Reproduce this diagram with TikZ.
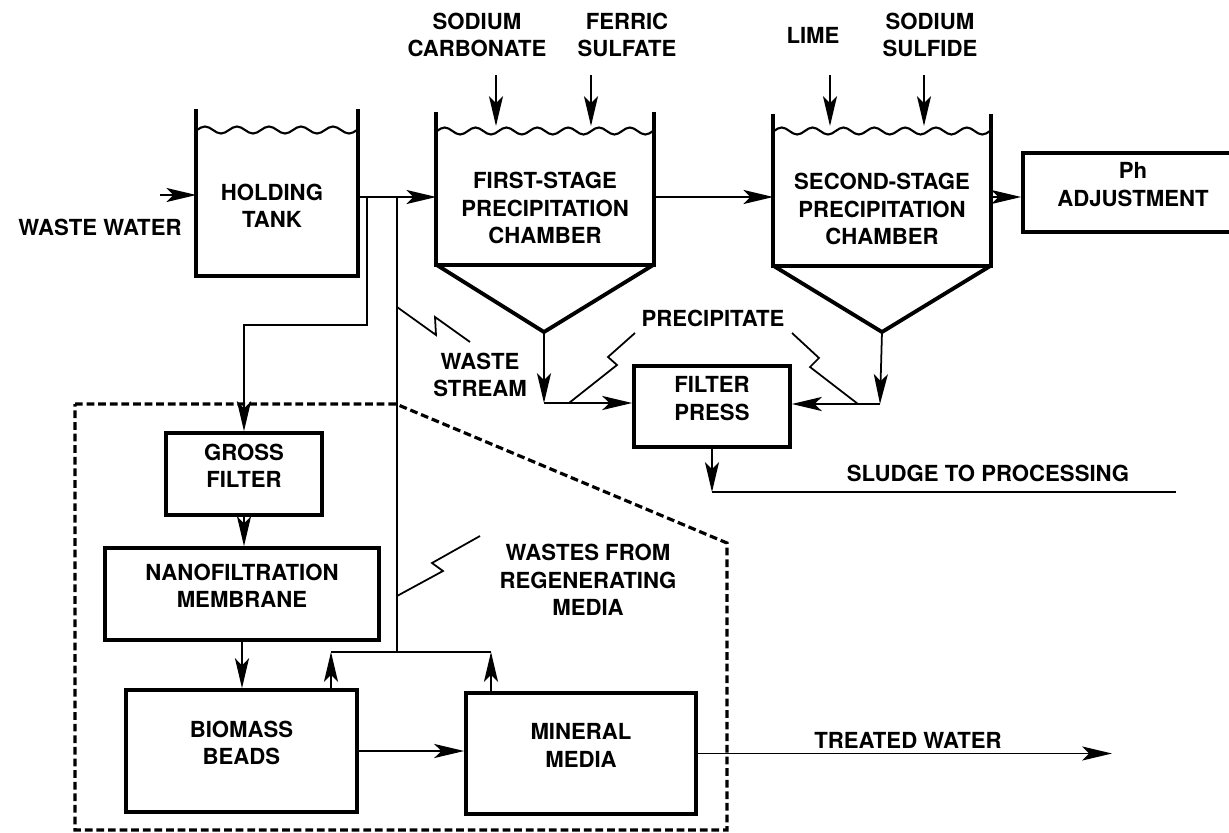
\documentclass[tikz,border=0pt]{standalone}
\usepackage{fontspec}
\setmainfont{TeX Gyre Heros}
\usetikzlibrary{arrows.meta,fit}

% draws a water surface of #4 waves from x=#1 to x=#2 at height #3
\newcommand{\tankwave}[4]{%
  \pgfmathsetmacro{\wl}{(#2-#1)/#4}%
  \draw[wavy] (#1,#3) \foreach \k in {1,...,#4}{
    sin ++(\wl/4,-3.5) cos ++(\wl/4,3.5) sin ++(\wl/4,3.5) cos ++(\wl/4,-3.5)};%
}

\begin{document}
\begin{tikzpicture}[x=0.01cm,y=-0.01cm,
  txt/.style={font=\fontsize{6.3}{7.8}\selectfont\bfseries, align=center, inner sep=0pt},
  box/.style={draw, line width=1.05pt, inner sep=0pt, txt},
  area/.style={inner sep=0pt},
  wall/.style={line width=1.1pt, line join=miter},
  flow/.style={line width=0.5pt},
  arr/.style={flow, -{Stealth[length=8.5pt,width=4pt,inset=2pt]}},
  wavy/.style={line width=0.6pt},
  zig/.style={line width=0.5pt},
  bound/.style={line width=0.9pt, dash pattern=on 2.2pt off 1.1pt}]

\useasboundingbox (0,0) rectangle (1229,833);
\clip (0,0) rectangle (1229,833);

% ---------- tanks ----------
\node[area, fit={(197,110)(357,275)}] (ht) {};
\draw[wall] (ht.north west) -- (ht.south west) -- (ht.south east) -- (ht.north east);
\tankwave{197}{357}{130}{5}
\node[txt] (htl) at (272,206) {HOLDING\\TANK};

\node[area, fit={(437,113)(653,264)}] (c1) {};
\coordinate (c1tip) at (544,332);
\draw[wall] (c1.north west) -- (c1.south west) -- (c1.south east) -- (c1.north east);
\draw[wall] (c1.south west) -- (c1tip) -- (c1.south east);
\tankwave{437}{653}{131}{7}
\node[txt] (c1l) at (545,208) {FIRST-STAGE\\PRECIPITATION\\CHAMBER};

\node[area, fit={(774,115)(990,265)}] (c2) {};
\coordinate (c2tip) at (882,332);
\draw[wall] (c2.north west) -- (c2.south west) -- (c2.south east) -- (c2.north east);
\draw[wall] (c2.south west) -- (c2tip) -- (c2.south east);
\tankwave{774}{990}{131}{7}
\node[txt] (c2l) at (882,209) {SECOND-STAGE\\PRECIPITATION\\CHAMBER};

% ---------- boxes ----------
\node[box, fit={(1023,153)(1243,232)}] (ph) {Ph\\ADJUSTMENT};
\node[box, fit={(634,366)(790,447)}] (fp) {FILTER\\PRESS};
\node[box, fit={(166,433)(322,515)}] (gf) {GROSS\\FILTER};
\node[box, fit={(105,548)(379,640)}] (nf) {NANOFILTRATION\\MEMBRANE};
\node[box, fit={(126,690)(357,812)}] (bb) {BIOMASS\\BEADS};
\node[box, fit={(466,693)(696,814)}] (mm) {MINERAL\\MEDIA};

% ---------- labels ----------
\node[txt] (lww) at (100,227) {WASTE WATER};
\node[txt] (lsc) at (477,35) {SODIUM\\CARBONATE};
\node[txt] (lfs) at (627,35) {FERRIC\\SULFATE};
\node[txt] (lli) at (813,35) {LIME};
\node[txt] (lss) at (930,35) {SODIUM\\SULFIDE};
\node[txt] (lws) at (480,375) {WASTE\\STREAM};
\node[txt] (lpr) at (713,318) {PRECIPITATE};
\node[txt] (lsl) at (988,473) {SLUDGE TO PROCESSING};
\node[txt] (lwr) at (588,580) {WASTES FROM\\REGENERATING\\MEDIA};
\node[txt] (ltw) at (908,740) {TREATED WATER};

% ---------- reference points ----------
\coordinate (mainy) at (0,197);
\coordinate (wwin) at (160,195);
\coordinate (br1) at (367,197);
\coordinate (br1k) at (367,325);
\coordinate (br2) at (397,197);
\coordinate (rg) at (397,652);
\coordinate (rgl) at (331,652);
\coordinate (rgr) at (491,652);
\coordinate (d1) at (544,403);
\coordinate (d2) at (880,404);
\coordinate (sl) at (0,492);
\coordinate (slend) at (1176,492);
\coordinate (twend) at (1112,0);

% ---------- main flow ----------
\draw[arr] (wwin) -- (ht.west |- wwin);
\draw[arr] (ht.east |- mainy) -- (c1.west |- mainy);
\draw[arr] (c1.east |- mainy) -- (c2.west |- mainy);
\draw[arr] (c2.east |- mainy) -- (ph.west |- mainy);

% chemical feeds
\draw[arr] (496,75) -- (496,126);
\draw[arr] (591,75) -- (591,126);
\draw[arr] (830,75) -- (830,126);
\draw[arr] (924,75) -- (924,126);

% branches from the holding tank outlet
\draw[arr] (br1) -- (br1k) -- (gf.north |- br1k) -- (gf.north);
\draw[flow] (br2) -- (rg);
\draw[flow] (rgl) -- (rgr);

% precipitate to the filter press
\draw[arr] (c1tip) -- (d1);
\draw[arr] (d1) -- (fp.west |- d1);
\draw[arr] (c2tip) -- (d2);
\draw[arr] (d2) -- (fp.east |- d2);
\draw[arr] (fp.south) -- (fp.south |- sl);
\draw[flow] (fp.south |- sl) -- (slend);

% treatment train
\draw[arr] (gf.south) -- (gf.south |- nf.north);
\draw[arr] (nf.south) -- (nf.south |- bb.north);
\draw[arr] (bb.east) -- (bb.east -| mm.west);
\draw[arr] (rgl |- bb.north) -- (rgl);
\draw[arr] (rgr |- mm.north) -- (rgr);
\draw[arr] (mm.east) -- (mm.east -| twend);

% leader zigzags
\draw[zig] (397,307) -- (436,335) -- (435,317) -- (470,342);
\draw[zig] (569,403) -- (617,365) -- (608,357) -- (635,333);
\draw[zig] (858,404) -- (810,367) -- (819,358) -- (792,333);
\draw[zig] (397,596) -- (443,571) -- (432,563) -- (480,536);

% dashed boundary of the media treatment unit
\draw[bound] (75,404) -- (396,404) -- (727,543) -- (727,830) -- (75,830) -- cycle;

\end{tikzpicture}
\end{document}
